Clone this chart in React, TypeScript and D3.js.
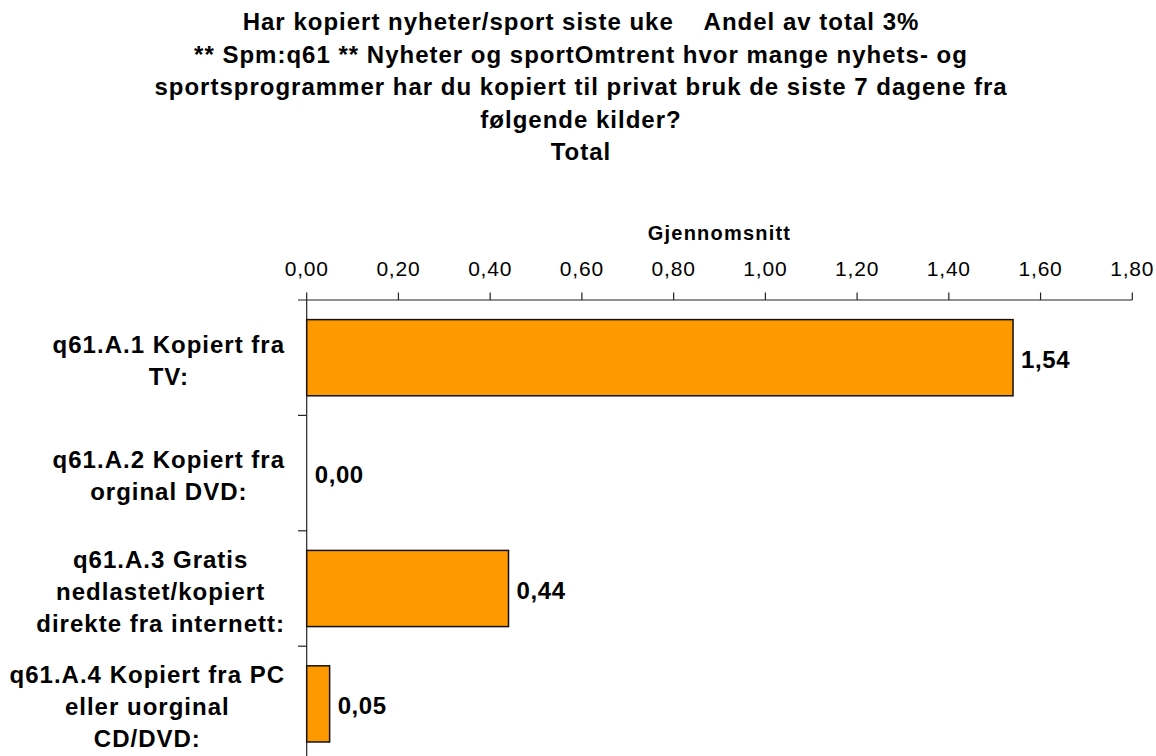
import React from "react";
import * as d3 from "d3";

const titleLines = [
  "Har kopiert nyheter/sport siste uke    Andel av total 3%",
  "** Spm:q61 ** Nyheter og sportOmtrent hvor mange nyhets- og",
  "sportsprogrammer har du kopiert til privat bruk de siste 7 dagene fra",
  "følgende kilder?",
  "Total",
];

const categories = ["A1", "A2", "A3", "A4"];
const categoryLabels = [
  ["q61.A.1 Kopiert fra", "TV:"],
  ["q61.A.2 Kopiert fra", "orginal DVD:"],
  ["q61.A.3 Gratis", "nedlastet/kopiert", "direkte fra internett:"],
  ["q61.A.4 Kopiert fra PC", "eller uorginal", "CD/DVD:"],
];
const values = [1.54, 0.0, 0.44, 0.05];
const tickValues = [0, 0.2, 0.4, 0.6, 0.8, 1.0, 1.2, 1.4, 1.6, 1.8];
const axisTitle = "Gjennomsnitt";

const W = 1156;
const H = 756;
const FONT = "'Liberation Sans', Arial, Helvetica, sans-serif";
const LABEL_SIZE = 24;
const LABEL_LS = 1;

const fmt = (v: number) => d3.format(".2f")(v).replace(".", ",");

let ctx: CanvasRenderingContext2D | null = null;
function measure(text: string, size: number, weight: string, ls: number) {
  if (typeof document === "undefined") return text.length * size * 0.55;
  if (!ctx) ctx = document.createElement("canvas").getContext("2d");
  if (!ctx) return text.length * size * 0.55;
  ctx.font = `${weight} ${size}px ${FONT}`;
  return ctx.measureText(text).width + ls * text.length;
}

export default function App() {
  const x = d3.scaleLinear().domain([0, 1.8]).range([306.7, 1132.3]);
  const y = d3
    .scaleBand<string>()
    .domain(categories)
    .range([300, 761.6])
    .paddingInner(0.34)
    .paddingOuter(0.17);
  const step = y.step();
  const x0 = x(0);
  const axisY = 300;
  const labelRight = 285;

  return (
    <svg
      width={W}
      height={H}
      style={{ position: "absolute", left: 0, top: 0, background: "#fff" }}
      fontFamily={FONT}
    >
      <rect x={0} y={0} width={W} height={H} fill="#fff" />
      {/* Title */}
      {titleLines.map((t, i) => (
        <text
          key={i}
          x={581}
          y={30 + i * 32.5}
          textAnchor="middle"
          fontSize={24}
          fontWeight="bold"
          letterSpacing={1}
          style={{ whiteSpace: "pre" }}
          fill="#000"
        >
          {t}
        </text>
      ))}
      {/* Axis title */}
      <text
        x={(x(0) + x(1.8)) / 2}
        y={240}
        textAnchor="middle"
        fontSize={20}
        fontWeight="bold"
        letterSpacing={1.2}
        fill="#000"
      >
        {axisTitle}
      </text>
      {/* X axis (top) */}
      <line x1={298} x2={x(1.8)} y1={axisY} y2={axisY} stroke="#222" strokeWidth={1.2} />
      {tickValues.map((t) => (
        <g key={t}>
          <line x1={x(t)} x2={x(t)} y1={axisY - 7.5} y2={axisY} stroke="#222" strokeWidth={1.2} />
          <text
            x={x(t)}
            y={276}
            textAnchor="middle"
            fontSize={21}
            letterSpacing={0.8}
            fill="#000"
          >
            {fmt(t)}
          </text>
        </g>
      ))}
      {/* Y axis */}
      <line x1={x0} x2={x0} y1={axisY} y2={H} stroke="#222" strokeWidth={1.2} />
      {categories.map((c) => {
        const yb = (y(c) as number) - y.paddingOuter() * step + step;
        return (
          <line key={"t" + c} x1={298} x2={x0} y1={yb} y2={yb} stroke="#222" strokeWidth={1.2} />
        );
      })}
      {/* Bars */}
      {categories.map((c, i) => {
        const v = values[i];
        const by = y(c) as number;
        const bw = y.bandwidth();
        const cy = by + bw / 2;
        const lines = categoryLabels[i];
        const maxW = Math.max(
          ...lines.map((l) => measure(l, LABEL_SIZE, "bold", LABEL_LS))
        );
        const cx = labelRight - maxW / 2;
        return (
          <g key={c}>
            {v > 0 && (
              <rect
                x={x0}
                y={by}
                width={x(v) - x0}
                height={bw}
                fill="#FF9900"
                stroke="#111"
                strokeWidth={1.5}
              />
            )}
            <text
              x={x(v) + 8}
              y={cy + 10}
              fontSize={24}
              fontWeight="bold"
              letterSpacing={0.6}
              fill="#000"
            >
              {fmt(v)}
            </text>
            {lines.map((line, j, arr) => (
              <text
                key={j}
                x={cx}
                y={cy + (j - (arr.length - 1) / 2) * 32 + 11}
                textAnchor="middle"
                fontSize={LABEL_SIZE}
                fontWeight="bold"
                letterSpacing={LABEL_LS}
                fill="#000"
              >
                {line}
              </text>
            ))}
          </g>
        );
      })}
    </svg>
  );
}
